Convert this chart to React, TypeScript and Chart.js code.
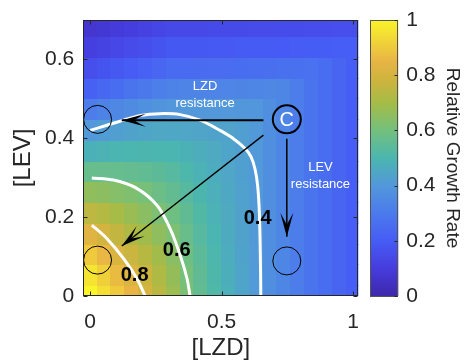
import React, { useEffect, useRef } from "react";
import { Chart, registerables } from "chart.js";

Chart.register(...registerables);

// ---------- data ----------
const lzdValues = [0, 0.0526, 0.1053, 0.1579, 0.2105, 0.2632, 0.3158, 0.3684, 0.4211, 0.4737, 0.5263, 0.5789, 0.6316, 0.6842, 0.7368, 0.7895, 0.8421, 0.8947, 0.9474, 1];
const levValues = [0, 0.0526, 0.1053, 0.1579, 0.2105, 0.2632, 0.3158, 0.3684, 0.4211, 0.4737, 0.5263, 0.5789, 0.6316, 0.6842];

// relative growth rate, one row per LEV value (bottom to top), one entry per LZD value
const growthRows = [
  [1.0, 0.95, 0.9, 0.85, 0.8, 0.74, 0.68, 0.615, 0.56, 0.515, 0.475, 0.44, 0.405, 0.37, 0.34, 0.31, 0.28, 0.255, 0.23, 0.205],
  [0.96, 0.913, 0.866, 0.818, 0.774, 0.72, 0.665, 0.605, 0.553, 0.51, 0.472, 0.439, 0.405, 0.37, 0.34, 0.31, 0.28, 0.255, 0.23, 0.205],
  [0.9, 0.857, 0.815, 0.772, 0.736, 0.691, 0.644, 0.59, 0.543, 0.504, 0.468, 0.437, 0.405, 0.37, 0.34, 0.31, 0.28, 0.255, 0.23, 0.205],
  [0.83, 0.794, 0.757, 0.718, 0.692, 0.657, 0.619, 0.572, 0.531, 0.496, 0.463, 0.434, 0.404, 0.37, 0.34, 0.31, 0.28, 0.255, 0.23, 0.205],
  [0.75, 0.727, 0.701, 0.675, 0.647, 0.619, 0.591, 0.553, 0.518, 0.487, 0.458, 0.432, 0.404, 0.37, 0.34, 0.31, 0.28, 0.255, 0.23, 0.205],
  [0.66, 0.65, 0.637, 0.623, 0.606, 0.582, 0.56, 0.531, 0.503, 0.477, 0.452, 0.429, 0.404, 0.37, 0.34, 0.31, 0.28, 0.255, 0.23, 0.205],
  [0.57, 0.569, 0.567, 0.563, 0.556, 0.544, 0.529, 0.508, 0.487, 0.467, 0.446, 0.426, 0.403, 0.37, 0.34, 0.31, 0.28, 0.255, 0.23, 0.205],
  [0.48, 0.488, 0.495, 0.499, 0.502, 0.5, 0.495, 0.482, 0.471, 0.457, 0.44, 0.423, 0.403, 0.37, 0.34, 0.31, 0.28, 0.255, 0.23, 0.205],
  [0.4, 0.413, 0.424, 0.434, 0.442, 0.449, 0.451, 0.446, 0.441, 0.437, 0.434, 0.42, 0.403, 0.37, 0.34, 0.31, 0.28, 0.255, 0.23, 0.205],
  [0.31, 0.327, 0.344, 0.36, 0.375, 0.388, 0.397, 0.4, 0.4, 0.4, 0.4, 0.398, 0.393, 0.37, 0.34, 0.31, 0.28, 0.255, 0.23, 0.205],
  [0.22, 0.239, 0.258, 0.277, 0.296, 0.315, 0.33, 0.332, 0.333, 0.334, 0.336, 0.338, 0.341, 0.343, 0.34, 0.31, 0.28, 0.255, 0.23, 0.205],
  [0.16, 0.174, 0.188, 0.201, 0.215, 0.234, 0.249, 0.25, 0.251, 0.252, 0.254, 0.256, 0.261, 0.264, 0.266, 0.269, 0.271, 0.255, 0.23, 0.205],
  [0.11, 0.123, 0.135, 0.148, 0.16, 0.175, 0.186, 0.188, 0.189, 0.191, 0.192, 0.194, 0.195, 0.197, 0.198, 0.2, 0.202, 0.203, 0.205, 0.205],
  [0.07, 0.081, 0.092, 0.103, 0.115, 0.129, 0.139, 0.14, 0.142, 0.143, 0.144, 0.145, 0.147, 0.148, 0.149, 0.151, 0.153, 0.154, 0.155, 0.157],
];

const xTickValues = [0, 0.5, 1];
const yTickValues = [0, 0.2, 0.4, 0.6];
const colorbarTickValues = [0, 0.2, 0.4, 0.6, 0.8, 1];

// contour lines (LZD, LEV)
const contour04X = [0, 0.063, 0.127, 0.19, 0.266, 0.342, 0.418, 0.494, 0.545, 0.589, 0.612, 0.627, 0.637, 0.643, 0.646, 0.648, 0.649];
const contour04Y = [0.42, 0.433, 0.446, 0.458, 0.4625, 0.46, 0.446, 0.42, 0.399, 0.374, 0.353, 0.322, 0.28, 0.22, 0.15, 0.07, 0];
const contour06X = [0.006, 0.089, 0.177, 0.254, 0.304, 0.342, 0.368, 0.38];
const contour06Y = [0.2995, 0.294, 0.273, 0.23, 0.171, 0.104, 0.045, 0];
const contour08X = [0.006, 0.063, 0.127, 0.177, 0.209];
const contour08Y = [0.18, 0.146, 0.095, 0.045, 0];
const contourLabels = ["0.4", "0.6", "0.8"];
const contourLabelX = [0.637, 0.329, 0.169];
const contourLabelY = [0.196, 0.115, 0.053];

// annotation circles
const circleX = [0.028, 0.028, 0.748];
const circleY = [0.448, 0.091, 0.089];
const centerCircleX = [0.748];
const centerCircleY = [0.448];
const centerLabel = "C";

// arrows
const arrowFromX = [0.659, 0.659, 0.748];
const arrowFromY = [0.446, 0.408, 0.399];
const arrowToX = [0.12, 0.12, 0.748];
const arrowToY = [0.446, 0.127, 0.15];

// annotation texts
const noteLines = [["LZD", "resistance"], ["LEV", "resistance"]];
const noteX = [0.437, 0.876];
const noteTopY = [0.532, 0.327];

// ---------- styles ----------
const FONT = '"Liberation Sans", Arial, Helvetica, sans-serif';
const AXIS_COLOR = "#262626";
const COLOR_STOPS: Array<[number, number, number, number]> = [
  [0.0, 62, 40, 170],
  [0.1, 70, 60, 222],
  [0.2, 70, 92, 245],
  [0.3, 75, 122, 236],
  [0.4, 82, 152, 218],
  [0.5, 75, 182, 175],
  [0.6, 115, 192, 125],
  [0.7, 165, 188, 70],
  [0.78, 205, 180, 62],
  [0.85, 232, 180, 68],
  [0.93, 242, 215, 55],
  [1.0, 249, 245, 40],
];
const ARROW_WIDTHS = [2, 1.3, 1.5];

function colormap(v: number): string {
  const t = Math.max(0, Math.min(1, v));
  for (let k = 1; k < COLOR_STOPS.length; k++) {
    const a = COLOR_STOPS[k - 1];
    const b = COLOR_STOPS[k];
    if (t <= b[0]) {
      const f = (t - a[0]) / (b[0] - a[0]);
      const r = Math.round(a[1] + (b[1] - a[1]) * f);
      const g = Math.round(a[2] + (b[2] - a[2]) * f);
      const bl = Math.round(a[3] + (b[3] - a[3]) * f);
      return `rgb(${r},${g},${bl})`;
    }
  }
  const l = COLOR_STOPS[COLOR_STOPS.length - 1];
  return `rgb(${l[1]},${l[2]},${l[3]})`;
}

const fmt = (v: number) => String(Number(v.toFixed(2)));

const heatmapPlugin = {
  id: "heatmap",
  beforeDatasetsDraw(chart: any) {
    const { ctx, chartArea } = chart;
    const xs = chart.scales.x;
    const ys = chart.scales.y;
    const dx = (lzdValues[1] - lzdValues[0]) / 2;
    const dy = (levValues[1] - levValues[0]) / 2;
    ctx.save();
    ctx.beginPath();
    ctx.rect(chartArea.left, chartArea.top, chartArea.right - chartArea.left, chartArea.bottom - chartArea.top);
    ctx.clip();
    for (let j = 0; j < levValues.length; j++) {
      for (let i = 0; i < lzdValues.length; i++) {
        const x0 = xs.getPixelForValue(lzdValues[i] - dx);
        const x1 = xs.getPixelForValue(lzdValues[i] + dx);
        const y0 = ys.getPixelForValue(levValues[j] + dy);
        const y1 = ys.getPixelForValue(levValues[j] - dy);
        ctx.fillStyle = colormap(growthRows[j][i]);
        const l = Math.floor(x0), t = Math.floor(y0);
        ctx.fillRect(l, t, Math.ceil(x1) - l, Math.ceil(y1) - t);
      }
    }
    ctx.restore();
  },
};

const overlayPlugin = {
  id: "overlay",
  afterDatasetsDraw(chart: any) {
    const { ctx, chartArea } = chart;
    const xs = chart.scales.x;
    const ys = chart.scales.y;
    const cb = chart.scales.cb;
    ctx.save();

    // arrowheads
    ctx.fillStyle = "#000";
    for (let k = 0; k < arrowToX.length; k++) {
      const fx = xs.getPixelForValue(arrowFromX[k]);
      const fy = ys.getPixelForValue(arrowFromY[k]);
      const tx = xs.getPixelForValue(arrowToX[k]);
      const ty = ys.getPixelForValue(arrowToY[k]);
      const len = Math.hypot(tx - fx, ty - fy);
      const ux = (tx - fx) / len, uy = (ty - fy) / len;
      const px = -uy, py = ux;
      const L = 24, W = 6.5, N = 12;
      ctx.beginPath();
      ctx.moveTo(tx, ty);
      ctx.lineTo(tx - ux * L + px * W, ty - uy * L + py * W);
      ctx.lineTo(tx - ux * N, ty - uy * N);
      ctx.lineTo(tx - ux * L - px * W, ty - uy * L - py * W);
      ctx.closePath();
      ctx.fill();
    }

    // annotation texts
    ctx.fillStyle = "#fff";
    ctx.font = `13px ${FONT}`;
    ctx.textAlign = "center";
    ctx.textBaseline = "middle";
    for (let k = 0; k < noteLines.length; k++) {
      const cx = xs.getPixelForValue(noteX[k]);
      const cy = ys.getPixelForValue(noteTopY[k]);
      noteLines[k].forEach((s, n) => ctx.fillText(s, cx, cy + n * 17));
    }
    ctx.font = `20px ${FONT}`;
    ctx.fillText(centerLabel, xs.getPixelForValue(centerCircleX[0]), ys.getPixelForValue(centerCircleY[0]) + 1);

    // contour labels
    ctx.fillStyle = "#000";
    ctx.font = `bold 20px ${FONT}`;
    for (let k = 0; k < contourLabels.length; k++) {
      ctx.fillText(contourLabels[k], xs.getPixelForValue(contourLabelX[k]), ys.getPixelForValue(contourLabelY[k]));
    }

    // axes box and inward ticks
    ctx.strokeStyle = AXIS_COLOR;
    ctx.lineWidth = 1;
    const L0 = Math.round(chartArea.left) + 0.5;
    const R0 = Math.round(chartArea.right) - 0.5;
    const T0 = Math.round(chartArea.top) + 0.5;
    const B0 = Math.round(chartArea.bottom) - 0.5;
    ctx.strokeRect(L0, T0, R0 - L0, B0 - T0);
    ctx.beginPath();
    xTickValues.forEach((v) => {
      const p = Math.round(xs.getPixelForValue(v)) + 0.5;
      ctx.moveTo(p, B0); ctx.lineTo(p, B0 - 4);
      ctx.moveTo(p, T0); ctx.lineTo(p, T0 + 4);
    });
    yTickValues.forEach((v) => {
      const p = Math.round(ys.getPixelForValue(v)) + 0.5;
      ctx.moveTo(L0, p); ctx.lineTo(L0 + 4, p);
      ctx.moveTo(R0, p); ctx.lineTo(R0 - 4, p);
    });
    ctx.stroke();

    // colorbar
    const cbLeft = cb.left + 12;
    const cbRight = cb.left + 40;
    const cTop = cb.getPixelForValue(1);
    const cBot = cb.getPixelForValue(0);
    const grad = ctx.createLinearGradient(0, cBot, 0, cTop);
    COLOR_STOPS.forEach((s) => grad.addColorStop(s[0], `rgb(${s[1]},${s[2]},${s[3]})`));
    ctx.fillStyle = grad;
    ctx.fillRect(cbLeft, cTop, cbRight - cbLeft, cBot - cTop);
    ctx.strokeStyle = "#555";
    ctx.strokeRect(Math.round(cbLeft) + 0.5, Math.round(cTop) + 0.5, Math.round(cbRight - cbLeft) - 1, Math.round(cBot - cTop));
    ctx.strokeStyle = AXIS_COLOR;
    ctx.beginPath();
    colorbarTickValues.forEach((v) => {
      const p = Math.round(cb.getPixelForValue(v)) + 0.5;
      ctx.moveTo(Math.round(cbRight) - 0.5, p);
      ctx.lineTo(Math.round(cbRight) - 3.5, p);
    });
    ctx.stroke();

    ctx.restore();
  },
};

export default function App() {
  const canvasRef = useRef<HTMLCanvasElement>(null);

  useEffect(() => {
    const canvas = canvasRef.current;
    if (!canvas) return;

    const line = (xs: number[], ys: number[], color: string, width: number, tension: number, order: number) => ({
      data: xs.map((x, i) => ({ x, y: ys[i] })),
      showLine: true,
      borderColor: color,
      borderWidth: width,
      pointRadius: 0,
      tension,
      order,
    });

    const datasets: any[] = [
      {
        data: circleX.map((x, i) => ({ x, y: circleY[i] })),
        showLine: false,
        pointRadius: 14,
        pointBorderWidth: 1,
        pointBorderColor: "#000",
        pointBackgroundColor: "rgba(0,0,0,0)",
        order: 0,
      },
      {
        data: centerCircleX.map((x, i) => ({ x, y: centerCircleY[i] })),
        showLine: false,
        pointRadius: 14,
        pointBorderWidth: 2,
        pointBorderColor: "#000",
        pointBackgroundColor: "rgba(0,0,0,0)",
        order: 0,
      },
      ...arrowToX.map((_, k) =>
        line([arrowFromX[k], arrowToX[k]], [arrowFromY[k], arrowToY[k]], "#000", ARROW_WIDTHS[k], 0, 1)
      ),
      line(contour04X, contour04Y, "#fff", 3, 0.3, 2),
      line(contour06X, contour06Y, "#fff", 3, 0.3, 2),
      line(contour08X, contour08Y, "#fff", 3, 0.3, 2),
    ];

    const tickFont = { family: FONT, size: 21 };
    const noPad = (s: any) => { s.paddingTop = 0; s.paddingBottom = 0; };

    const chart = new Chart(canvas, {
      type: "scatter",
      data: { datasets },
      plugins: [heatmapPlugin, overlayPlugin],
      options: {
        animation: false,
        responsive: false,
        devicePixelRatio: 1,
        layout: { padding: { top: 20, left: 0, right: 0, bottom: 0 } },
        plugins: { legend: { display: false }, tooltip: { enabled: false } },
        scales: {
          x: {
            type: "linear",
            position: "bottom",
            min: -0.0263,
            max: 1.02,
            grid: { display: false, drawTicks: false },
            border: { display: false },
            afterBuildTicks: (s: any) => { s.ticks = xTickValues.map((v) => ({ value: v })); },
            afterFit: (s: any) => { s.height = 67; s.paddingLeft = 0; s.paddingRight = 0; },
            ticks: { font: tickFont, color: AXIS_COLOR, padding: 14, maxRotation: 0, callback: (v: any) => fmt(Number(v)) },
            title: { display: true, text: "[LZD]", font: { family: FONT, size: 24 }, color: AXIS_COLOR, padding: 0 },
          },
          y: {
            type: "linear",
            position: "left",
            min: 0,
            max: 0.7,
            grid: { display: false, drawTicks: false },
            border: { display: false },
            afterBuildTicks: (s: any) => { s.ticks = yTickValues.map((v) => ({ value: v })); },
            afterFit: (s: any) => { s.width = 83.3; noPad(s); },
            ticks: { font: tickFont, color: AXIS_COLOR, padding: 9, callback: (v: any) => fmt(Number(v)) },
            title: { display: true, text: "[LEV]", font: { family: FONT, size: 24 }, color: AXIS_COLOR, padding: { top: 9, bottom: 0 } },
          },
          cb: {
            type: "linear",
            position: "right",
            min: 0,
            max: 1,
            grid: { display: false, drawTicks: false },
            border: { display: false },
            afterBuildTicks: (s: any) => { s.ticks = colorbarTickValues.map((v) => ({ value: v })); },
            afterFit: (s: any) => { s.width = 105.7; noPad(s); },
            ticks: { font: tickFont, color: AXIS_COLOR, padding: 48, callback: (v: any) => fmt(Number(v)) },
            title: { display: true, text: "Relative Growth Rate", font: { family: FONT, size: 19 }, color: AXIS_COLOR, padding: { top: 0, bottom: 0 } },
          },
        },
      } as any,
    });

    return () => chart.destroy();
  }, []);

  return (
    <div style={{ position: "absolute", left: 0, top: 0, width: 464, height: 363, background: "#fff" }}>
      <canvas ref={canvasRef} width={464} height={363} style={{ display: "block", width: 464, height: 363 }} />
    </div>
  );
}
